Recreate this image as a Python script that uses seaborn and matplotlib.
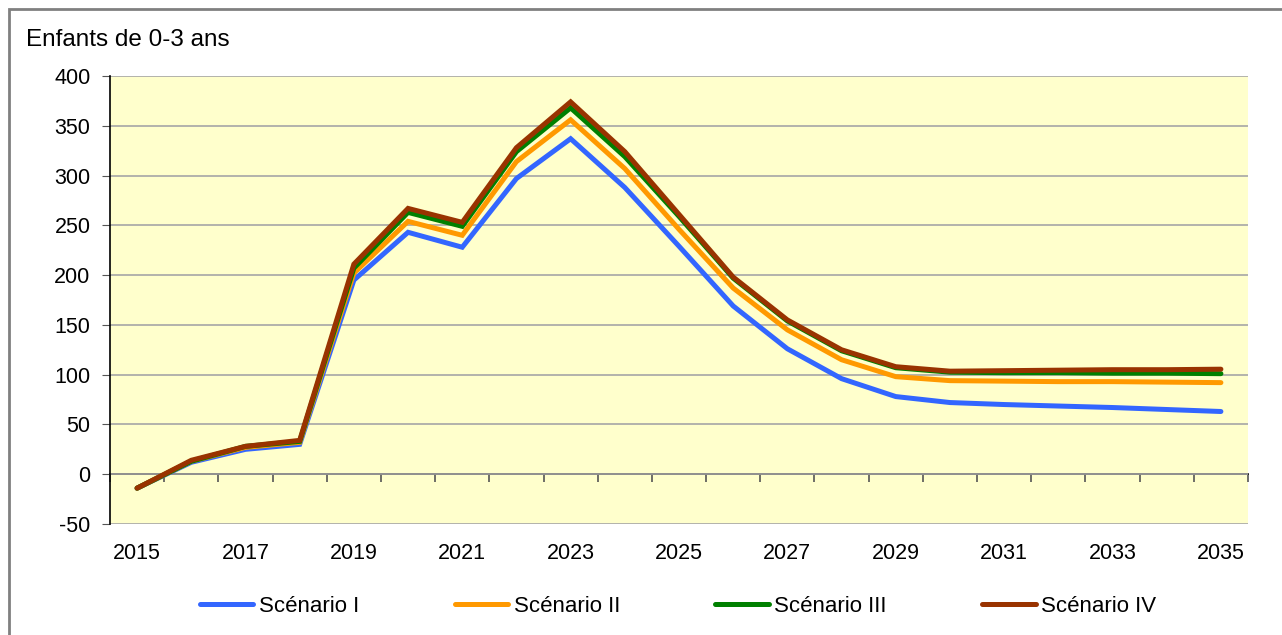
import numpy as np
import pandas as pd
import matplotlib
matplotlib.use("Agg")
import matplotlib.pyplot as plt
import seaborn as sns
from matplotlib.patches import Rectangle

# ---- data ----
years = list(range(2015, 2036))
scen_1 = [-14, 12, 25, 30, 195, 243, 228, 297, 337, 288, 229, 169, 126, 96, 78, 72, 70, 68.5, 67, 65, 63]
scen_2 = [-14, 13, 27, 32, 202, 254, 240, 314, 356, 307, 246, 187, 145, 115, 98, 94, 93.5, 93, 93, 92.5, 92]
scen_3 = [-14, 13, 28, 33, 207, 263, 249, 324, 368, 319, 259, 197, 154, 124, 107, 102.5, 102, 102, 101.5, 101.5, 101]
scen_4 = [-14, 14, 28, 34, 211, 267, 253, 328, 374, 324, 261, 198, 155, 125, 108, 103.5, 104, 104.5, 105, 105, 105.5]
labels = ["Scénario I", "Scénario II", "Scénario III", "Scénario IV"]
colors = ["#3366FF", "#FF9900", "#008000", "#993300"]

long = []
for name, vals in zip(labels, [scen_1, scen_2, scen_3, scen_4]):
    long.append(pd.DataFrame({"idx": np.arange(len(years)), "val": vals, "scen": name}))
long = pd.concat(long, ignore_index=True)

sns.set_style("white")
plt.rcParams["font.family"] = ["Liberation Sans", "DejaVu Sans"]
plt.rcParams["axes.unicode_minus"] = False
plt.rcParams["text.color"] = "black"
plt.rcParams["xtick.labelcolor"] = "black"
plt.rcParams["ytick.labelcolor"] = "black"

fig = plt.figure(figsize=(12.82, 6.35), dpi=100)
ax = fig.add_axes([110 / 1282, 1 - 524 / 635, 1138 / 1282, 448 / 635])
ax.set_facecolor("#FFFFCC")

sns.lineplot(data=long, x="idx", y="val", hue="scen", palette=colors,
             hue_order=labels, linewidth=3.6, ax=ax, legend=False,
             solid_capstyle="round", solid_joinstyle="miter")

ymin, ymax = -50, 400
ax.set_xlim(-0.5, len(years) - 0.5)
ax.set_ylim(ymin, ymax)
ax.set_yticks(np.arange(-50, 401, 50))
ax.yaxis.grid(True, color="#A6A6A6", lw=1.2)
ax.set_axisbelow(True)
ax.set_xlabel("")
ax.set_ylabel("")

ax.set_xticks(np.arange(0, len(years), 2))
ax.set_xticklabels([str(y) for y in years[::2]])
ax.tick_params(axis="x", length=0, labelsize=15.5, pad=14, labelcolor="black")
ax.tick_params(axis="y", length=6, color="#555555", labelsize=15.5, pad=8, left=True, labelcolor="black")

for s in ["top", "right", "bottom"]:
    ax.spines[s].set_visible(False)
ax.spines["left"].set_color("black")
ax.spines["left"].set_linewidth(1.2)

# horizontal axis crossing at zero with category boundary ticks
sec = ax.secondary_xaxis((0 - ymin) / (ymax - ymin))
sec.set_xticks(np.arange(-0.5, len(years) + 0.5, 1))
sec.tick_params(axis="x", length=6, width=1.2, color="#555555", labelbottom=False, direction="out")
sec.spines["bottom"].set_color("black")
sec.spines["bottom"].set_linewidth(1.2)

fig.text(26 / 1282, 1 - 40 / 635, "Enfants de 0-3 ans", fontsize=17.5, va="center", ha="left", color="black")

handles = [plt.Line2D([], [], color=c, lw=3.6, solid_capstyle="round") for c in colors]
fig.legend(handles, labels, loc="center", bbox_to_anchor=(0.529, 1 - 606 / 635), ncol=4,
           frameon=False, fontsize=16, handlelength=2.4, handletextpad=0.25,
           columnspacing=4.3, labelcolor="black")

fig.patches.append(Rectangle((9 / 1282, -0.1), 1.2, 1 - 9 / 635 + 0.1, transform=fig.transFigure,
                             fill=False, edgecolor="#808080", lw=2))

fig.savefig("out.png", dpi=100)
